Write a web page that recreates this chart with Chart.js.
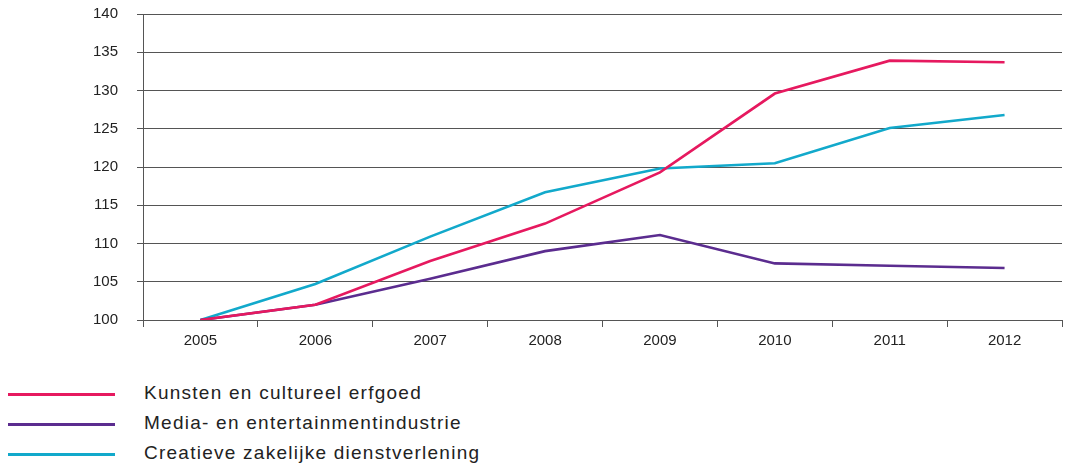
<!DOCTYPE html>
<html>
<head>
<meta charset="utf-8">
<script src="https://cdn.jsdelivr.net/npm/chart.js@4/dist/chart.umd.min.js"></script>
<style>
  html, body { margin: 0; padding: 0; background: #fff; }
  #wrap { position: relative; width: 1066px; height: 465px; }
  #chart-box { position: absolute; left: 0; top: 0; width: 1066px; height: 355px; }
  #legend { position: absolute; left: 0; top: 380px; font-family: "Liberation Sans", Arial, sans-serif; font-size: 19px; color: #222; }
  .row { position: relative; height: 30px; }
  .row .sw { position: absolute; left: 8px; top: 13px; width: 107px; height: 3px; }
  .row .lbl { position: absolute; left: 144px; top: 2px; white-space: nowrap; letter-spacing: 1.25px; }
</style>
</head>
<body>
<div id="wrap">
  <div id="chart-box"><canvas id="chart"></canvas></div>
  <div id="legend"></div>
</div>
<script>
// jaren en indexcijfers (2005 = 100)
const years = ['2005', '2006', '2007', '2008', '2009', '2010', '2011', '2012'];
const kunsten = [100, 102, 107.7, 112.6, 119.3, 129.6, 133.9, 133.7];
const media = [100, 102, 105.4, 109.0, 111.1, 107.4, 107.1, 106.8];
const creatief = [100, 104.7, 110.9, 116.7, 119.8, 120.5, 125.1, 126.8];

const seriesNames = ['Kunsten en cultureel erfgoed', 'Media- en entertainmentindustrie', 'Creatieve zakelijke dienstverlening'];
const seriesColors = ['#e6195f', '#5b2c8f', '#12a9cb'];

function initChart() {
    const ctx = document.getElementById('chart').getContext('2d');
    const values = [kunsten, media, creatief];

    new Chart(ctx, {
        type: 'line',
        data: {
            labels: years,
            datasets: values.map((v, i) => ({
                label: seriesNames[i],
                data: v,
                borderColor: seriesColors[i],
                borderWidth: 2.6,
                pointRadius: 0,
                tension: 0,
                fill: false
            }))
        },
        options: {
            responsive: true,
            maintainAspectRatio: false,
            animation: false,
            layout: { padding: { top: 14, right: 4, left: 0, bottom: 0 } },
            plugins: {
                legend: { display: false },
                tooltip: { enabled: false }
            },
            scales: {
                x: {
                    offset: true,
                    grid: {
                        offset: true,
                        drawOnChartArea: false,
                        color: '#555',
                        tickLength: 7
                    },
                    border: { color: '#555', width: 1 },
                    ticks: {
                        color: '#222',
                        padding: 5,
                        font: { family: 'Liberation Sans', size: 15 }
                    }
                },
                y: {
                    min: 100,
                    max: 140,
                    // vaste breedte, geen extra ruimte boven/onder door de labelpadding
                    afterFit: (s) => { s.width = 143; s.paddingTop = 0; s.paddingBottom = 0; },
                    grid: {
                        color: '#555',
                        tickLength: 6
                    },
                    border: { color: '#555', width: 1 },
                    ticks: {
                        stepSize: 5,
                        color: '#222',
                        padding: 19,
                        font: { family: 'Liberation Sans', size: 15 }
                    }
                }
            }
        }
    });

    // legenda onder de grafiek
    const leg = document.getElementById('legend');
    seriesNames.forEach((name, i) => {
        const row = document.createElement('div');
        row.className = 'row';
        row.innerHTML = '<div class="sw" style="background:' + seriesColors[i] + '"></div><div class="lbl">' + name + '</div>';
        leg.appendChild(row);
    });
}

document.addEventListener('DOMContentLoaded', initChart);
</script>
</body>
</html>
